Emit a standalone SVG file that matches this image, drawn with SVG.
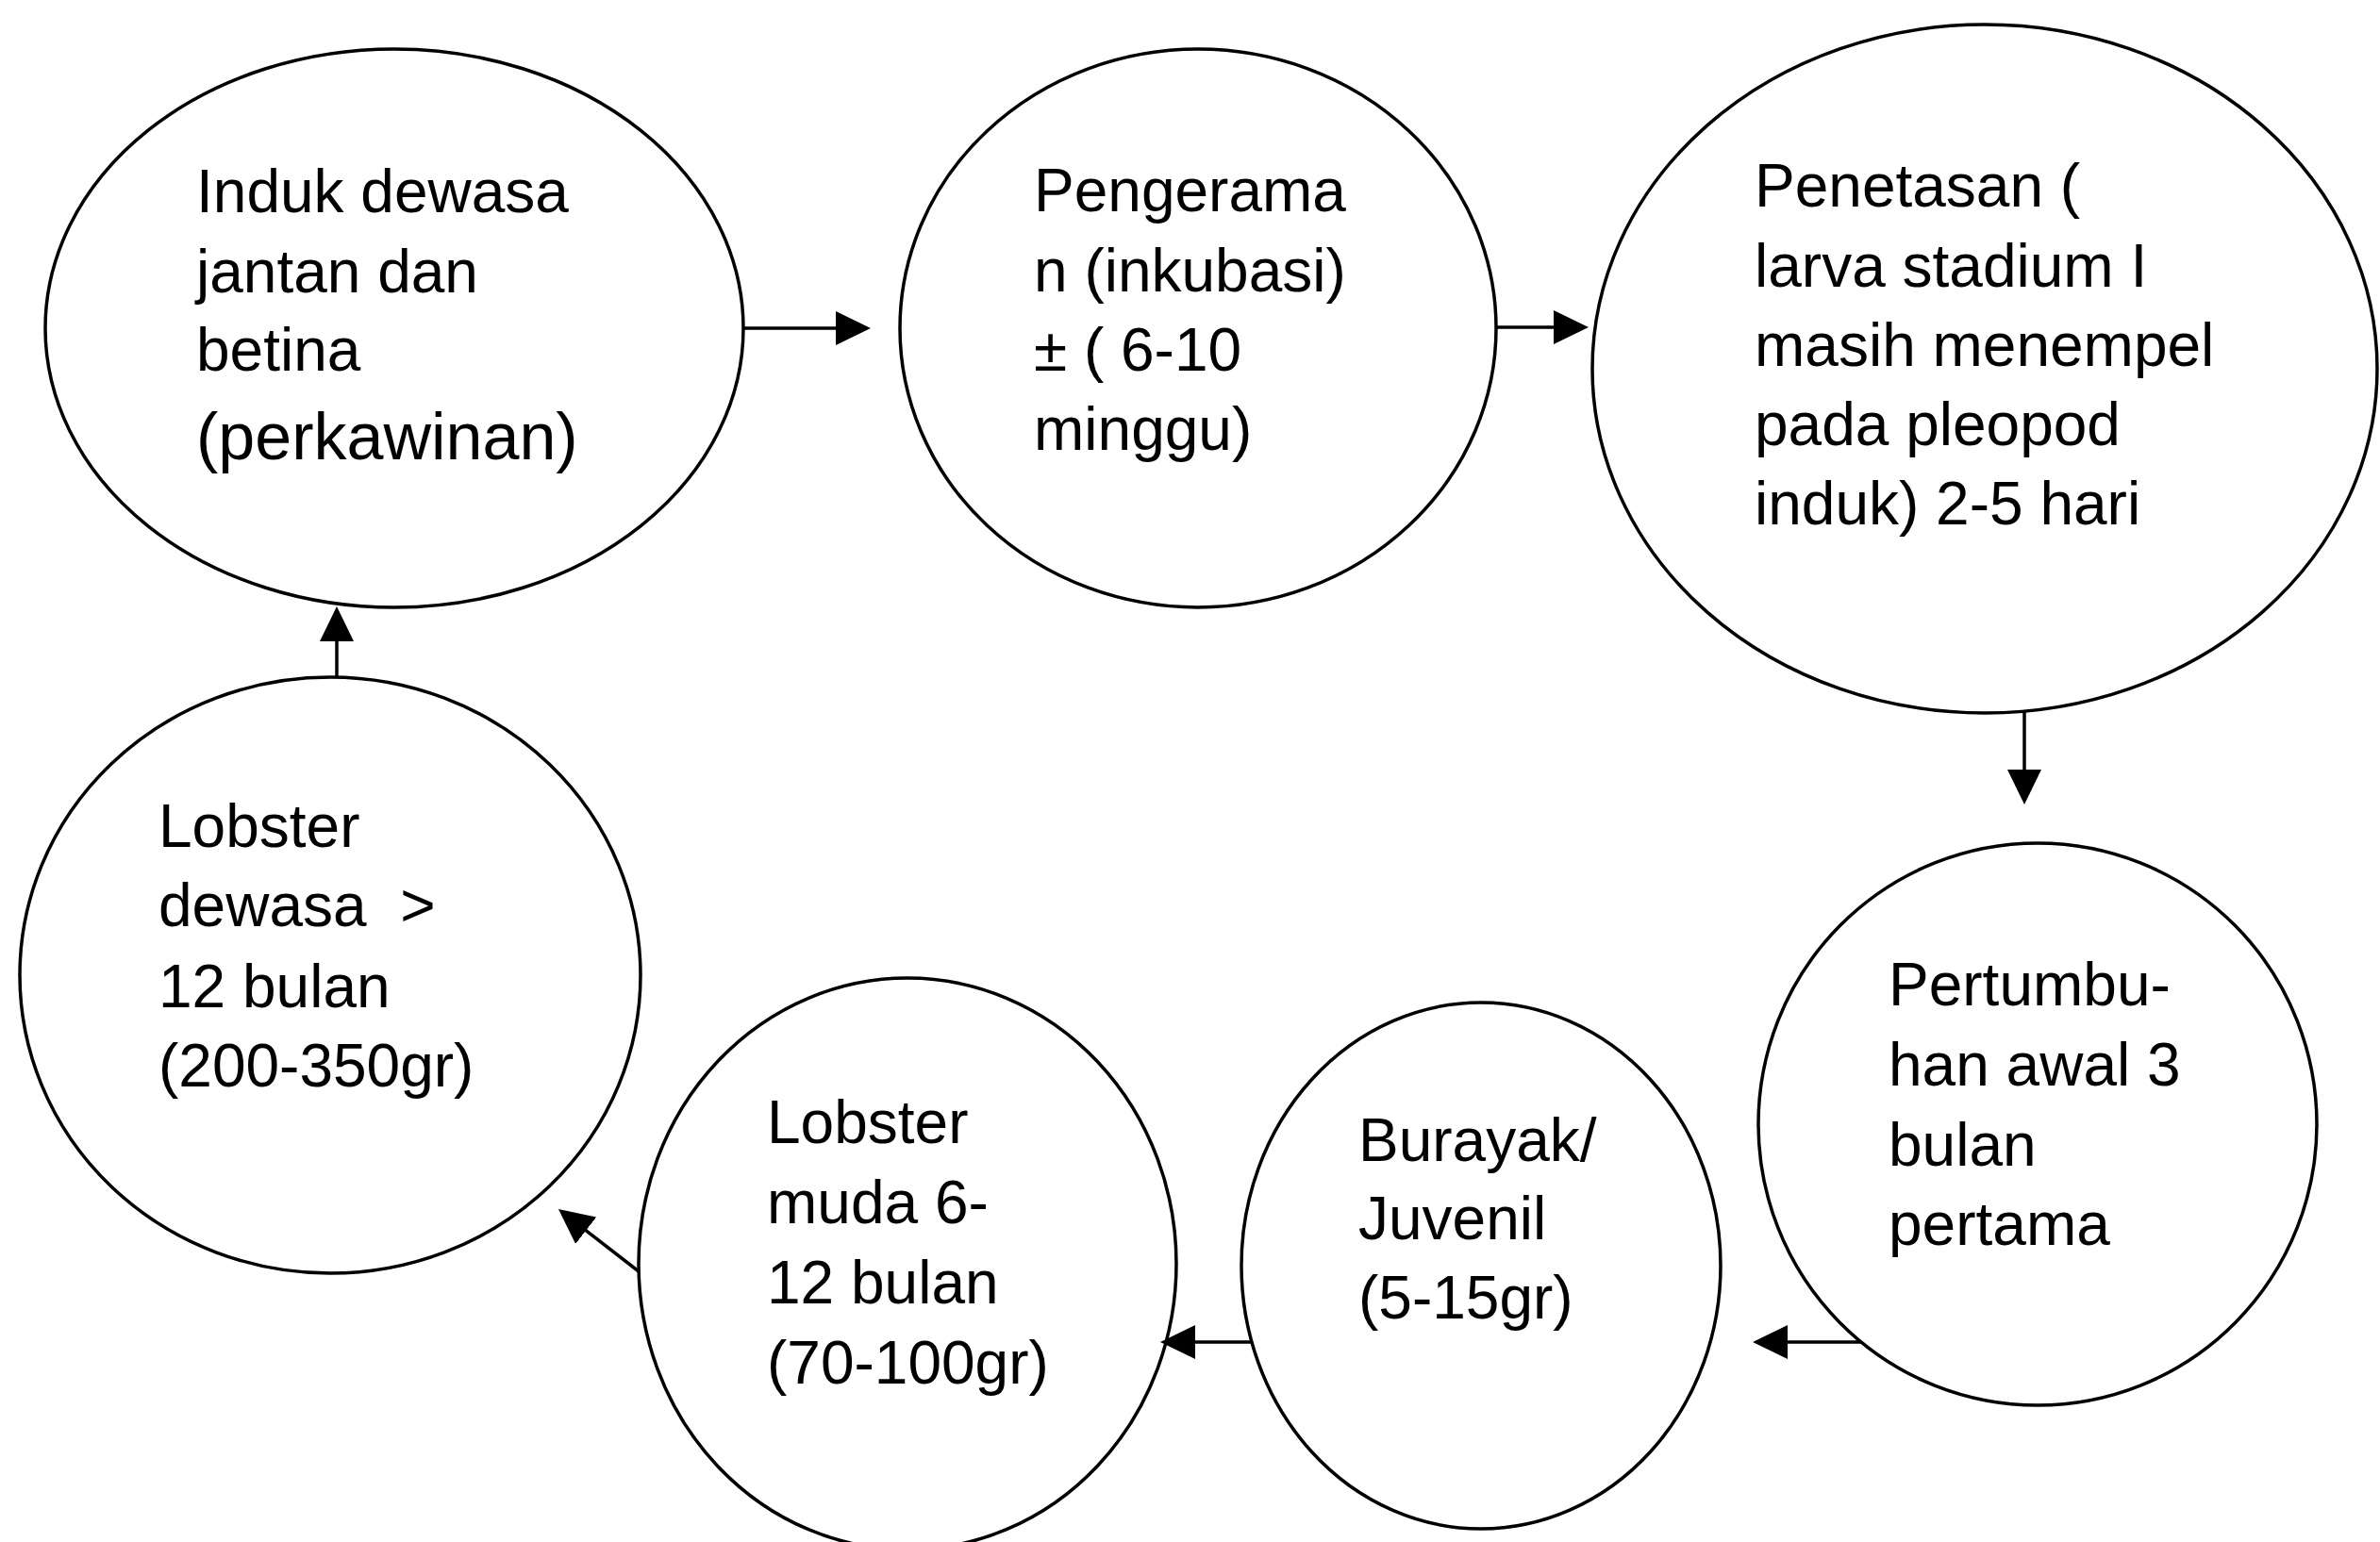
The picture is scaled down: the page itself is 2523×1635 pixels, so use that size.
<svg xmlns="http://www.w3.org/2000/svg" width="2523" height="1635" viewBox="0 0 2523 1635">
<style>
  .node { fill: #ffffff; stroke: #000000; stroke-width: 3.5; }
  .lbl { font-family: "Liberation Sans", Arial, sans-serif; font-size: 64px; fill: #000000; }
  .big { font-size: 70px; }
  .edge { stroke: #000000; stroke-width: 3.5; fill: none; marker-end: url(#arrow); }
</style>
<defs>
  <marker id="arrow" markerUnits="userSpaceOnUse" markerWidth="38" markerHeight="36" refX="1" refY="18" orient="auto">
    <path d="M0,0 L37,18 L0,36 Z" fill="#000000"/>
  </marker>
</defs>
<rect x="0" y="0" width="2523" height="1635" fill="#ffffff"/>

<g id="node-induk">
  <ellipse class="node" cx="418" cy="348" rx="370" ry="296"/>
  <text class="lbl" x="208" y="225">Induk dewasa</text>
  <text class="lbl" x="208" y="310">jantan dan</text>
  <text class="lbl" x="208" y="393">betina</text>
  <text class="lbl big" x="208" y="487">(perkawinan)</text>
</g>

<g id="node-pengeraman">
  <ellipse class="node" cx="1270" cy="348" rx="316" ry="296"/>
  <text class="lbl" x="1096" y="224">Pengerama</text>
  <text class="lbl" x="1096" y="309">n (inkubasi)</text>
  <text class="lbl" x="1096" y="393">± ( 6-10</text>
  <text class="lbl" x="1096" y="477">minggu)</text>
</g>

<g id="node-penetasan">
  <ellipse class="node" cx="2104" cy="391" rx="416" ry="365"/>
  <text class="lbl" x="1860" y="219">Penetasan (</text>
  <text class="lbl" x="1860" y="304">larva stadium I</text>
  <text class="lbl" x="1860" y="388">masih menempel</text>
  <text class="lbl" x="1860" y="472">pada pleopod</text>
  <text class="lbl" x="1860" y="556">induk) 2-5 hari</text>
</g>

<g id="node-pertumbuhan">
  <ellipse class="node" cx="2160" cy="1192" rx="296" ry="298"/>
  <text class="lbl" x="2002" y="1066">Pertumbu-</text>
  <text class="lbl" x="2002" y="1151">han awal 3</text>
  <text class="lbl" x="2002" y="1236">bulan</text>
  <text class="lbl" x="2002" y="1320">pertama</text>
</g>

<g id="node-burayak">
  <ellipse class="node" cx="1570" cy="1342" rx="254" ry="279"/>
  <text class="lbl" x="1440" y="1231">Burayak/</text>
  <text class="lbl" x="1440" y="1314">Juvenil</text>
  <text class="lbl" x="1440" y="1398">(5-15gr)</text>
</g>

<g id="node-lobster-muda">
  <ellipse class="node" cx="962" cy="1340" rx="285" ry="303"/>
  <text class="lbl" x="813" y="1212">Lobster</text>
  <text class="lbl" x="813" y="1297">muda 6-</text>
  <text class="lbl" x="813" y="1382">12 bulan</text>
  <text class="lbl" x="813" y="1467">(70-100gr)</text>
</g>

<g id="node-lobster-dewasa">
  <ellipse class="node" cx="350" cy="1034" rx="329" ry="316"/>
  <text class="lbl" x="168" y="898">Lobster</text>
  <text class="lbl" x="168" y="982" xml:space="preserve">dewasa  &gt;</text>
  <text class="lbl" x="168" y="1068">12 bulan</text>
  <text class="lbl" x="168" y="1152">(200-350gr)</text>
</g>

<g id="connectors">
  <line class="edge" x1="788" y1="348" x2="887" y2="348"/>
  <line class="edge" x1="1586" y1="347" x2="1648" y2="347"/>
  <line class="edge" x1="2146" y1="754" x2="2146" y2="817"/>
  <line class="edge" x1="1973" y1="1423" x2="1894" y2="1423"/>
  <line class="edge" x1="1327" y1="1423" x2="1266" y2="1423"/>
  <line class="edge" x1="677" y1="1348" x2="620.4" y2="1304.1"/>
  <line class="edge" x1="357" y1="718" x2="357" y2="679"/>
</g>
</svg>
